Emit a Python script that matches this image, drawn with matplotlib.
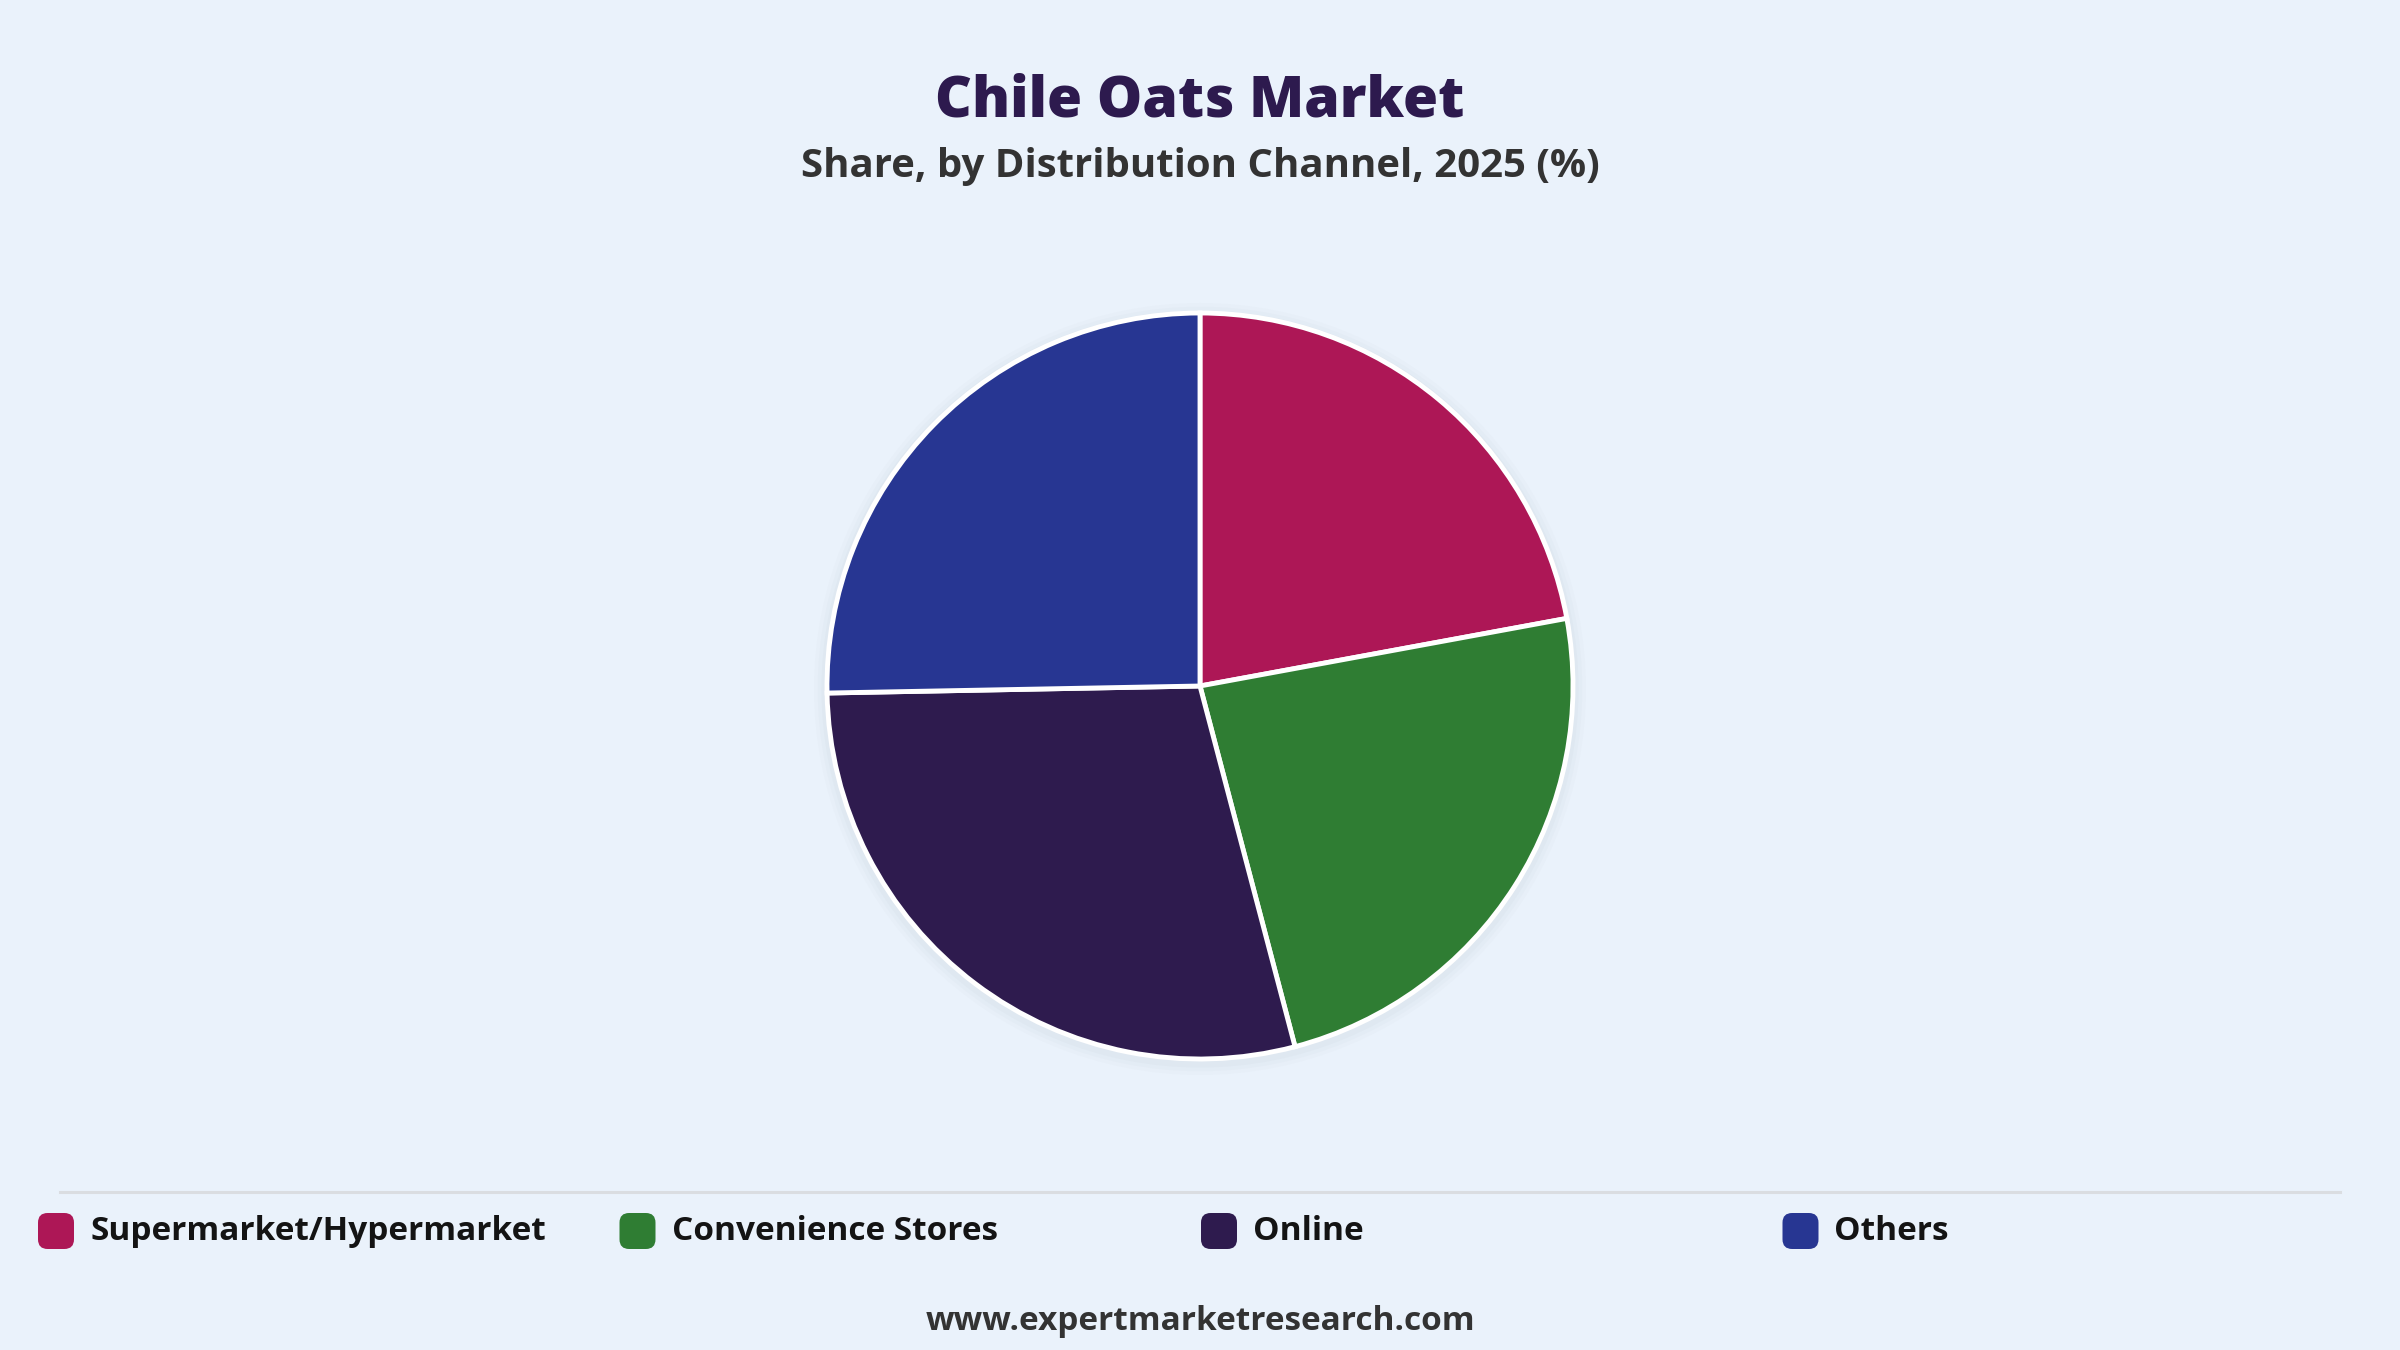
import matplotlib.pyplot as plt
from matplotlib.patches import FancyBboxPatch, Circle

# data
channels = ['Supermarket/Hypermarket', 'Convenience Stores', 'Online', 'Others']
shares = [22.1, 23.8, 28.8, 25.3]
colors = ['#ad1756', '#2f7d33', '#2e1b4e', '#273692']

bg = '#eaf2fb'
W, H = 2400, 1350
plt.rcParams['font.family'] = ['Open Sans', 'DejaVu Sans']

fig = plt.figure(figsize=(24, 13.5), dpi=100, facecolor=bg)

# titles
fig.text(0.5, 1 - 102 / H, 'Chile Oats Market', ha='center', va='center',
         fontsize=41, fontweight='heavy', color='#2d1a4e')
fig.text(0.5, 1 - 167 / H, 'Share, by Distribution Channel, 2025 (%)', ha='center', va='center',
         fontsize=28.9, fontweight='bold', color='#333333')

# pie
cx, cy, r = 1200, 686, 373
pad = 1.06
ax = fig.add_axes([(cx - r * pad) / W, (H - cy - r * pad) / H, 2 * r * pad / W, 2 * r * pad / H])
ax.set_facecolor(bg)
for k, a in [(1.035, 0.03), (1.025, 0.04), (1.015, 0.05)]:
    ax.add_patch(Circle((0, -0.008), k, color='#9aa4b0', alpha=a, lw=0, zorder=0))
ax.pie(shares, colors=colors, startangle=90, counterclock=False, radius=1,
       wedgeprops=dict(edgecolor='white', linewidth=3.5))
ax.set_xlim(-pad, pad)
ax.set_ylim(-pad, pad)
ax.set_aspect('equal')
ax.axis('off')

# separator line
fig.add_artist(plt.Line2D([60 / W, 2340 / W], [1 - 1192 / H, 1 - 1192 / H],
                          color='#dadde1', lw=2.2))

# legend
x0, step, ly = 38, 581.5, 1231
for i, (lab, col) in enumerate(zip(channels, colors)):
    x = x0 + i * step
    box = FancyBboxPatch(((x) / W, 1 - (ly + 18) / H), 36 / W, 36 / H,
                         boxstyle='round,pad=0,rounding_size=0.004',
                         transform=fig.transFigure, facecolor=col, edgecolor='none',
                         mutation_aspect=W / H)
    fig.add_artist(box)
    fig.text((x + 52) / W, 1 - ly / H, lab, ha='left', va='center',
             fontsize=24, fontweight='bold', color='#141414')

# footer
fig.text(0.5, 1 - 1321 / H, 'www.expertmarketresearch.com', ha='center', va='center',
         fontsize=24, fontweight='bold', color='#333333')

fig.savefig('out.png', dpi=100, facecolor=bg)
